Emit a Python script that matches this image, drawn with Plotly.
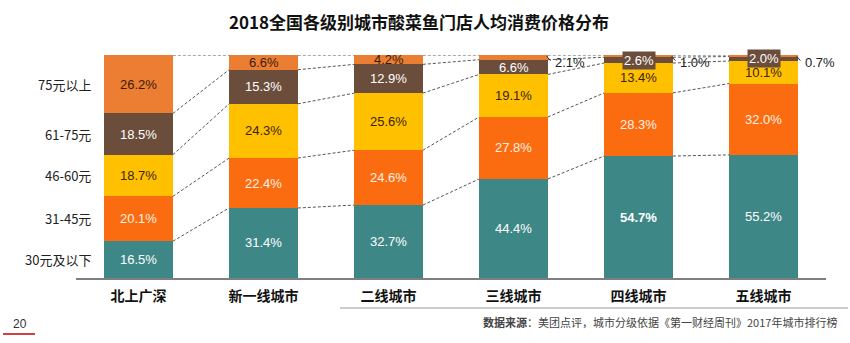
import plotly.graph_objects as go

categories = ["北上广深", "新一线城市", "二线城市", "三线城市", "四线城市", "五线城市"]
price_bands = ["30元及以下", "31-45元", "46-60元", "61-75元", "75元以上"]
v_30_below = [16.5, 31.4, 32.7, 44.4, 54.7, 55.2]
v_31_45 = [20.1, 22.4, 24.6, 27.8, 28.3, 32.0]
v_46_60 = [18.7, 24.3, 25.6, 19.1, 13.4, 10.1]
v_61_75 = [18.5, 15.3, 12.9, 6.6, 2.6, 2.0]
v_75_above = [26.2, 6.6, 4.2, 2.1, 1.0, 0.7]

series = [v_30_below, v_31_45, v_46_60, v_61_75, v_75_above]
colors = ["#3E8787", "#FB6C10", "#FFC000", "#6B4D3C", "#EC7E34"]
text_colors = ["#FFFFFF", "#FFF1E6", "#3A2410", "#FFFFFF", "#3A1A08"]

BAR_W = 0.55
xs = list(range(len(categories)))
FONT = "Liberation Sans, Arial, sans-serif"
CJK = "Noto Sans CJK SC, sans-serif"

# plot area in pixels (for paper-coordinate helpers)
L, R, T, B = 76, 24, 55, 65
W, H = 850, 343
PW, PH = W - L - R, H - T - B


def px(xp):
    return (xp - L) / PW


def py(yp):
    return (H - B - yp) / PH


fig = go.Figure()

# cumulative boundaries
cum = [[0.0] * len(categories)]
for s in series:
    cum.append([round(c + v, 4) for c, v in zip(cum[-1], s)])

# connector dashed lines between bars
for k in range(1, len(cum)):
    lx, ly = [], []
    for i in range(len(categories) - 1):
        lx += [i + BAR_W / 2, i + 1 - BAR_W / 2, None]
        ly += [cum[k][i], cum[k][i + 1], None]
    fig.add_trace(go.Scatter(x=lx, y=ly, mode="lines",
                             line=dict(color="#555555", width=1, dash="3px,2px"),
                             hoverinfo="skip", showlegend=False))

for j, s in enumerate(series):
    fig.add_trace(go.Bar(x=xs, y=s, width=BAR_W,
                         marker=dict(color=colors[j], line=dict(width=0)),
                         name=price_bands[j], showlegend=False, hoverinfo="skip"))

# segment labels
for j, s in enumerate(series):
    for i, v in enumerate(s):
        txt = f"{v:.1f}%"
        if v < 2.5 and j == 4:
            # outside label with short leader line
            fig.add_annotation(x=i + BAR_W / 2 - 0.01, y=cum[j + 1][i] - 0.5, xref="x", yref="y",
                               text="", showarrow=True, arrowhead=0, arrowwidth=1,
                               arrowcolor="#333333", ax=5, ay=6)
            fig.add_annotation(x=i + BAR_W / 2, y=cum[j + 1][i], xref="x", yref="y",
                               text=txt, showarrow=False, xanchor="left", yanchor="middle",
                               xshift=5, yshift=-7,
                               font=dict(family=FONT, size=13, color="#222222"))
            continue
        mid = cum[j][i] + v / 2
        bg = colors[j] if v < 3 else None
        bold = (j == 0 and i == 4)
        fig.add_annotation(x=i, y=mid, xref="x", yref="y",
                           text=f"<b>{txt}</b>" if bold else txt, showarrow=False,
                           bgcolor=bg, borderpad=1,
                           font=dict(family=FONT, size=13, color=text_colors[j]))

# left band labels aligned with first bar segments
for j, b in enumerate(price_bands):
    mid = cum[j][0] + series[j][0] / 2
    fig.add_annotation(x=px(93), xref="paper", y=mid, yref="y", xanchor="right",
                       text=b, showarrow=False,
                       font=dict(family=CJK, size=13, color="#222222"))

# footer texts
fig.add_annotation(x=px(839), xref="paper", xanchor="right", y=py(322), yref="paper",
                   yanchor="middle",
                   text="<b>数据来源</b>：美团点评，城市分级依据《第一财经周刊》2017年城市排行榜",
                   showarrow=False, font=dict(family=CJK, size=11, color="#444444"))
fig.add_annotation(x=px(11), xref="paper", xanchor="left", y=py(324), yref="paper",
                   yanchor="middle", text="20", showarrow=False,
                   font=dict(family=FONT, size=12, color="#333333"))

fig.add_shape(type="line", xref="paper", yref="paper",
              x0=px(340), x1=px(848), y0=py(308), y1=py(308),
              line=dict(color="#BBBBBB", width=1.5))
fig.add_shape(type="line", xref="paper", yref="paper",
              x0=px(3), x1=px(35), y0=py(334), y1=py(334),
              line=dict(color="#C00000", width=1.5))

fig.update_layout(
    title=dict(text="<b>2018全国各级别城市酸菜鱼门店人均消费价格分布</b>",
               x=419 / W, xanchor="center", y=1 - 23 / H, yanchor="middle", yref="container",
               font=dict(family=CJK, size=17, color="#111111")),
    width=W, height=H,
    margin=dict(l=L, r=R, t=T, b=B),
    barmode="stack",
    bargap=0,
    plot_bgcolor="white", paper_bgcolor="white",
    xaxis=dict(range=[-0.5, 5.5], tickmode="array", tickvals=xs,
               ticktext=[f"<b>{c}</b>" for c in categories],
               tickfont=dict(family=CJK, size=14, color="#111111"),
               ticklabelstandoff=4,
               showgrid=False, zeroline=False, showline=True, linecolor="#7F7F7F", linewidth=2,
               ticks="", fixedrange=True),
    yaxis=dict(range=[0, 100], visible=False, fixedrange=True),
    showlegend=False,
)

fig.write_html("out.html")
